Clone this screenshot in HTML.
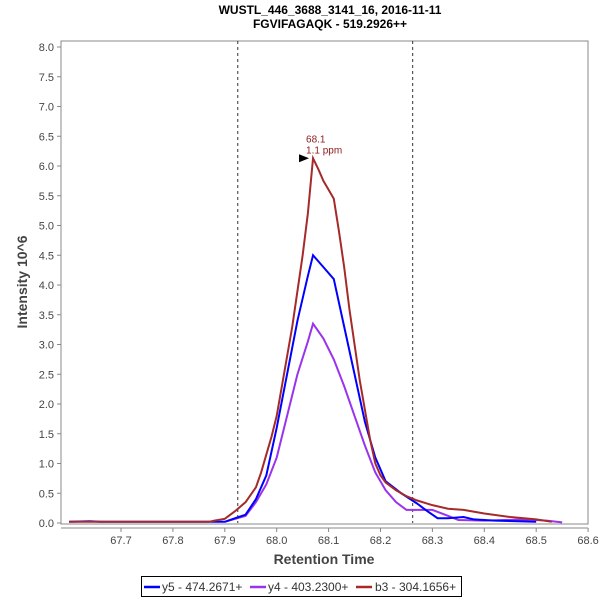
<!DOCTYPE html>
<html><head><meta charset="utf-8"><style>
body{margin:0;background:#fff;font-family:"Liberation Sans",sans-serif}
svg{display:block}
</style></head><body>
<svg id="c" width="600" height="600">
<text x="330" y="14" text-anchor="middle" font-size="12" font-weight="bold">WUSTL_446_3688_3141_16, 2016-11-11</text>
<text x="330" y="28" text-anchor="middle" font-size="12" font-weight="bold">FGVIFAGAQK - 519.2926++</text>
<text x="324" y="564" text-anchor="middle" font-size="14" font-weight="bold" fill="#444">Retention Time</text>
<text transform="translate(27,282) rotate(-90)" text-anchor="middle" font-size="14" font-weight="bold" fill="#444">Intensity 10^6</text>
<g id="g"></g>
<g>
<rect x="141.5" y="576.5" width="320" height="20" fill="#fff" stroke="#000"/>
<g><line x1="144" y1="587" x2="160" y2="587" stroke="#0000ff" stroke-width="2.5"/><text x="162" y="591" font-size="12" fill="#333">y5 - 474.2671+</text></g>
<g><line x1="250" y1="587" x2="266" y2="587" stroke="#9933ee" stroke-width="2.5"/><text x="268" y="591" font-size="12" fill="#333">y4 - 403.2300+</text></g>
<g><line x1="356" y1="587" x2="372" y2="587" stroke="#a52a2a" stroke-width="2.5"/><text x="375" y="591" font-size="12" fill="#333">b3 - 304.1656+</text></g>
</g>
</svg>
<script>
const xTicks=[67.7,67.8,67.9,68.0,68.1,68.2,68.3,68.4,68.5,68.6];
const yTicks=[0,0.5,1,1.5,2,2.5,3,3.5,4,4.5,5,5.5,6,6.5,7,7.5,8];
const boundaries=[67.925,68.262];
const b3T=[67.6,67.87,67.88,67.9,67.92,67.94,67.96,67.97,67.98,67.99,68.0,68.01,68.02,68.03,68.04,68.05,68.06,68.07,68.08,68.09,68.1,68.11,68.12,68.13,68.14,68.15,68.16,68.17,68.18,68.19,68.2,68.21,68.23,68.25,68.27,68.3,68.33,68.36,68.4,68.45,68.5,68.53];
const b3V=[0.02,0.02,0.04,0.07,0.2,0.35,0.6,0.85,1.15,1.45,1.8,2.3,2.8,3.3,3.9,4.5,5.2,6.13,5.95,5.75,5.6,5.45,4.9,4.3,3.6,3.0,2.4,1.9,1.4,1.0,0.8,0.68,0.55,0.45,0.38,0.3,0.24,0.22,0.16,0.1,0.06,0.02];
const y5T=[67.6,67.64,67.66,67.9,67.92,67.94,67.96,67.98,68.0,68.02,68.04,68.06,68.07,68.09,68.11,68.13,68.15,68.17,68.19,68.21,68.24,68.27,68.29,68.31,68.33,68.36,68.38,68.42,68.5];
const y5V=[0.02,0.03,0.02,0.02,0.08,0.14,0.4,0.8,1.6,2.5,3.4,4.15,4.5,4.3,4.1,3.3,2.5,1.7,1.1,0.7,0.5,0.33,0.2,0.08,0.08,0.1,0.06,0.04,0.02];
const y4T=[67.9,67.94,67.96,67.98,68.0,68.02,68.04,68.06,68.07,68.09,68.11,68.13,68.15,68.17,68.19,68.21,68.23,68.25,68.3,68.33,68.35,68.4,68.48,68.52,68.55];
const y4V=[0.02,0.12,0.35,0.65,1.1,1.8,2.5,3.05,3.35,3.1,2.75,2.3,1.8,1.3,0.85,0.55,0.35,0.22,0.22,0.12,0.05,0.04,0.06,0.04,0.01];
const L=61,R=588,T=41,B=523;
const X=v=>121+(v-67.7)*519;
const Y=v=>523-v*59.5;
const NS='http://www.w3.org/2000/svg',g=document.getElementById('g');
function mk(t,a){const e=document.createElementNS(NS,t);for(const k in a)e.setAttribute(k,a[k]);g.appendChild(e);return e;}
let e=mk('rect',{x:L,y:T,width:R-L,height:B-T+1,fill:'#fff',stroke:'#888'});


yTicks.forEach(v=>{mk('line',{x1:L-4,x2:L,y1:Y(v),y2:Y(v),stroke:'#888'});
 const t=mk('text',{x:L-7,y:Y(v)+4,'text-anchor':'end','font-size':11,fill:'#444'});t.textContent=v.toFixed(1);
 
 });
mk('line',{x1:L,x2:R,y1:528,y2:528,stroke:'#888'});
xTicks.forEach(v=>{mk('line',{x1:X(v),x2:X(v),y1:528,y2:532,stroke:'#888'});
 const t=mk('text',{x:X(v),y:544,'text-anchor':'middle','font-size':11,fill:'#444'});t.textContent=v.toFixed(1);
 
 });
boundaries.forEach(v=>{const l=mk('line',{x1:X(v),x2:X(v),y1:T,y2:B,stroke:'#333','stroke-dasharray':'3,3'});
 
 });
function series(tt,vv,col,name){const p=mk('polyline',{points:tt.map((t,i)=>X(t)+','+Y(vv[i])).join(' '),fill:'none',stroke:col,'stroke-width':2});
 
 }
series(y4T,y4V,'#9933ee','series-y4');
series(y5T,y5V,'#0000ff','series-y5');
series(b3T,b3V,'#a52a2a','series-b3');
let mi=b3V.indexOf(Math.max(...b3V));const px=X(b3T[mi]),py=Y(b3V[mi]);
const ar=mk('polygon',{points:`${px-4},${py} ${px-14},${py-4} ${px-14},${py+4}`,fill:'#000'});


const a1=mk('text',{x:px-7,y:py-16,'font-size':10,fill:'#8b1a1a'});a1.textContent=b3T[mi].toFixed(1);


const a2=mk('text',{x:px-7,y:py-5,'font-size':10,fill:'#8b1a1a'});a2.textContent='1.1 ppm';


</script>
</body></html>
